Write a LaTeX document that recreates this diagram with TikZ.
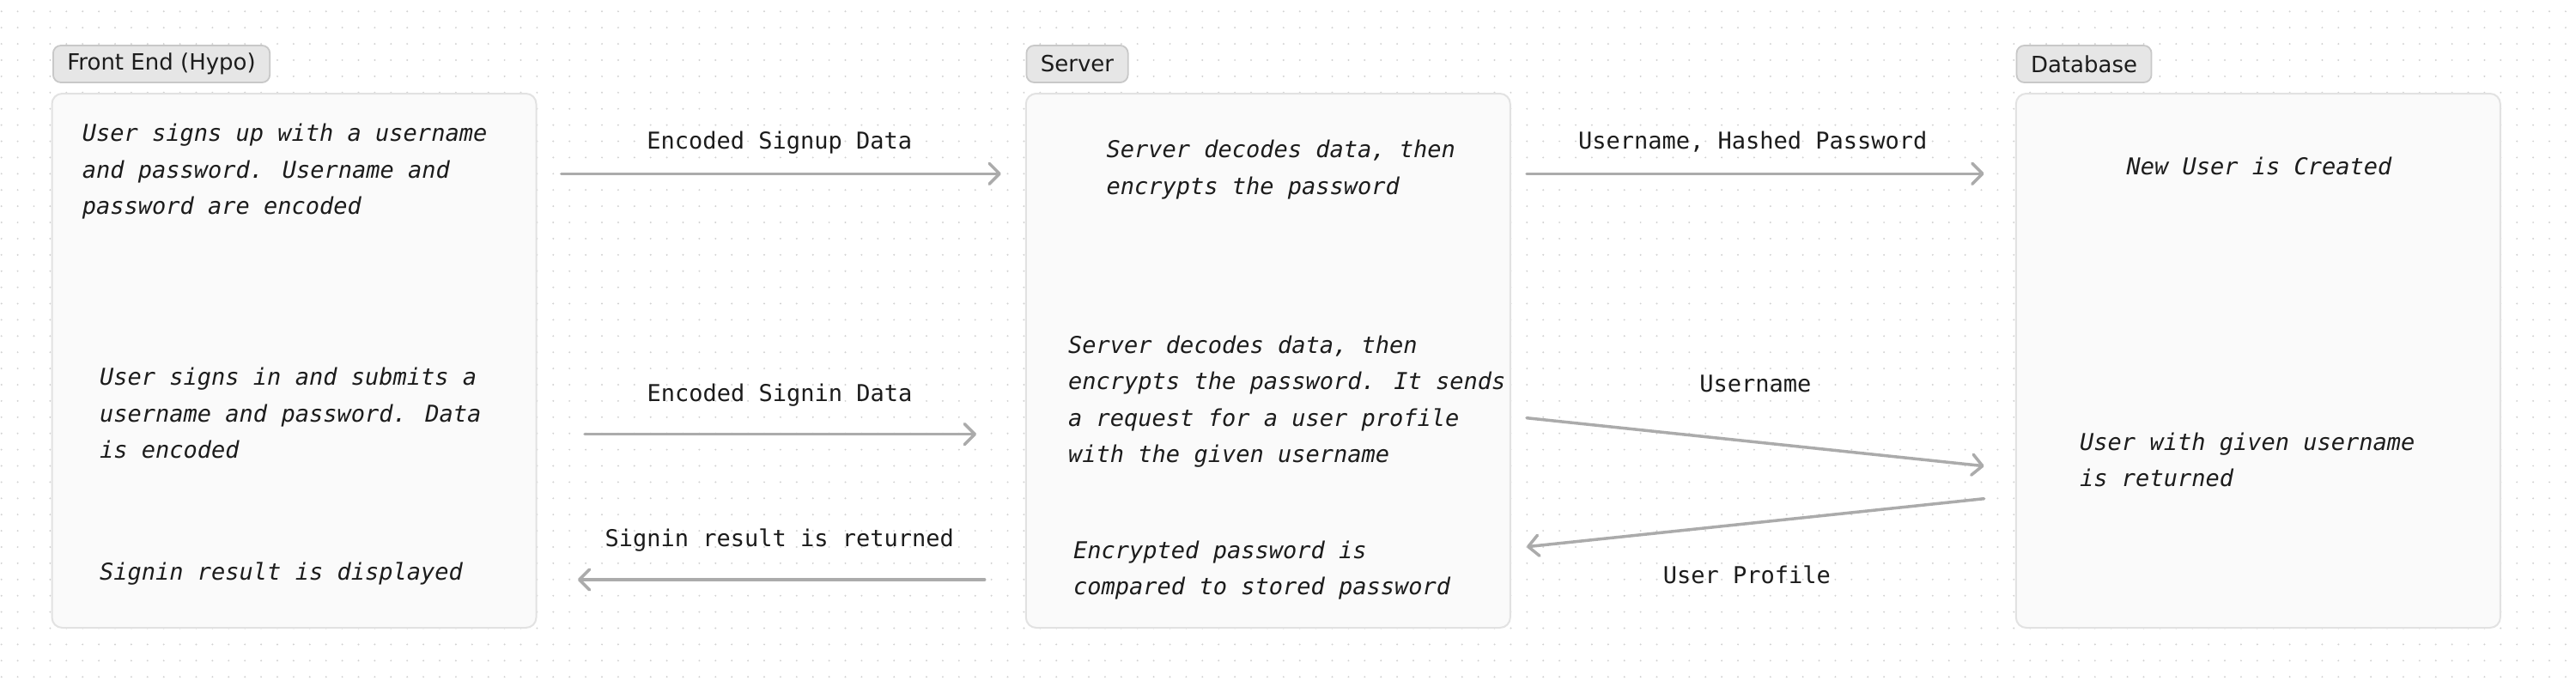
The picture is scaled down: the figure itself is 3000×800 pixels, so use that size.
\documentclass[tikz,border=0pt]{standalone}
\usepackage{fontspec}
\setmainfont{DejaVu Sans}
\newfontfamily\monofont{DejaVu Sans Mono}[ItalicFont={DejaVu Sans Mono Oblique}]
\usetikzlibrary{arrows.meta}
\definecolor{dotc}{HTML}{D2D2D2}
\definecolor{boxfill}{HTML}{FAFAFA}
\definecolor{boxline}{HTML}{E2E2E2}
\definecolor{hdrfill}{HTML}{E6E6E6}
\definecolor{hdrline}{HTML}{C8C8C8}
\definecolor{arrc}{HTML}{ABABAB}
\definecolor{txt}{HTML}{1C1C1C}
\begin{document}
\begin{tikzpicture}[x=1pt,y=-1pt,
  lane/.style={draw=boxline, fill=boxfill, line width=2pt, rounded corners=12pt,
    minimum width=564pt, minimum height=622pt, inner sep=0pt},
  hdr/.style={draw=hdrline, fill=hdrfill, line width=1.8pt, rounded corners=9pt,
    minimum height=43pt, inner xsep=16.5pt, inner ysep=0pt, anchor=west,
    text=txt, font=\fontsize{26}{30}\selectfont},
  ntext/.style={font=\monofont\itshape\fontsize{27}{42.4}\selectfont, text=txt,
    align=left, inner sep=0pt, anchor=north west, execute at begin node=\strut},
  lbl/.style={font=\monofont\fontsize{27}{32}\selectfont, text=txt, inner sep=0pt, anchor=base},
  arr/.style={draw=arrc, line width=3.5pt, line cap=round, line join=round,
    -{Straight Barb[length=12pt,width=24pt,line cap=round,line join=round]}}
]
\useasboundingbox (0,0) rectangle (3000,800);
\fill[white] (0,0) rectangle (3000,800);
\foreach \j in {0,...,41}{
  \fill[dotc] \foreach \i in {0,...,158}{(1.7+18.9*\i,13.3+18.9*\j) circle (1.1)};
}

% lanes
\node[lane] (fe)  at (342.5,420) {};
\node[lane] (srv) at (1476.8,420) {};
\node[lane] (db)  at (2629.8,420) {};

% headers
\node[hdr] (hfe)  at (61,74.5)    {Front End (Hypo)};
\node[hdr] (hsrv) at (1194.5,74.5) {Server};
\node[hdr] (hdb)  at (2347.6,74.5) {Database};

% texts
\node[ntext] (fe1) at (95.7,144) {User signs up with a username\\and password. Username and\\password are encoded};
\node[ntext] (fe2) at (116,428) {User signs in and submits a\\username and password. Data\\is encoded};
\node[ntext] (fe3) at (116,645.3) {Signin result is displayed};
\node[ntext] (s1) at (1288.3,163) {Server decodes data, then\\encrypts the password};
\node[ntext] (s2) at (1244,390.5) {Server decodes data, then\\encrypts the password. It sends\\a request for a user profile\\with the given username};
\node[ntext] (s3) at (1250,629.5) {Encrypted password is\\compared to stored password};
\node[ntext, anchor=north] (d1) at (2631,173.5) {New User is Created};
\node[ntext] (d2) at (2422,503.5) {User with given username\\is returned};

% connector end points
\coordinate (c1a) at (653.7,202.3);  \coordinate (c1b) at (1165.8,202.3);
\coordinate (c2a) at (1778,202.3);   \coordinate (c2b) at (2310.6,202.3);
\coordinate (c3a) at (681,505.7);    \coordinate (c3b) at (1137,505.7);
\coordinate (c4a) at (1146.7,675);   \coordinate (c4b) at (672.8,675);
\coordinate (c5a) at (1778,486.7);   \coordinate (c5b) at (2310.6,542.7);
\coordinate (c6a) at (2310.6,580.7); \coordinate (c6b) at (1778,636.7);

\draw[arr] (c1a) -- node[lbl, yshift=29.3pt, xshift=-2pt] (l1) {Encoded Signup Data} (c1b);
\draw[arr] (c2a) -- node[lbl, yshift=29.3pt, xshift=-3pt] (l2) {Username, Hashed Password} (c2b);
\draw[arr] (c3a) -- node[lbl, yshift=38.4pt, xshift=-1pt] (l3) {Encoded Signin Data} (c3b);
\draw[arr] (c4a) -- node[lbl, yshift=38.3pt, xshift=-2pt] (l4) {Signin result is returned} (c4b);
\draw[arr] (c5a) -- node[lbl, yshift=58.7pt] (l5) {Username} (c5b);
\draw[arr] (c6a) -- node[lbl, yshift=-70.6pt, xshift=-10pt] (l6) {User Profile} (c6b);
\end{tikzpicture}
\end{document}
